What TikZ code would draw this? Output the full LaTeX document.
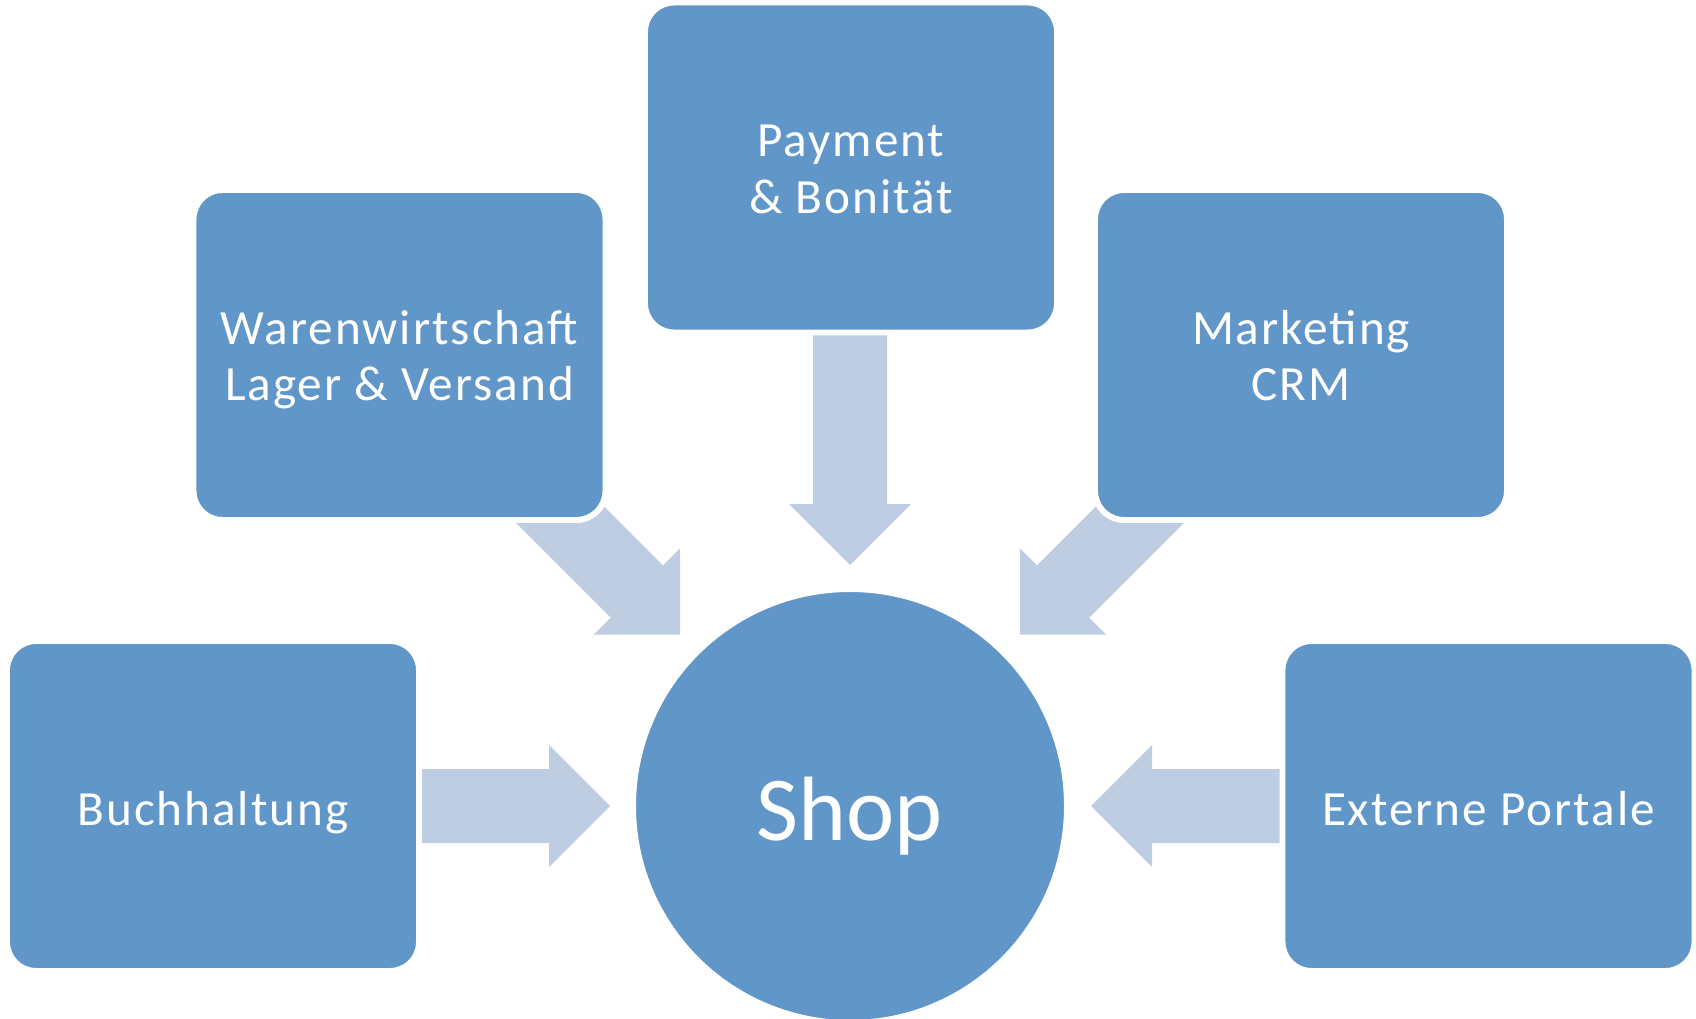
\documentclass[tikz,border=0pt]{standalone}
\usepackage{fontspec}
\setmainfont{Carlito}
\newfontfamily\kastenschrift[LetterSpace=4]{Carlito}
\usetikzlibrary{calc}

\definecolor{kastenblau}{RGB}{97,150,200}
\definecolor{pfeilblau}{RGB}{191,205,227}

\newcommand{\stuetze}[1]{\rule[-0.25em]{0pt}{#1}}

\tikzset{
	kasten/.style={rectangle, rounded corners=0.29cm, fill=kastenblau, draw=white, line width=1.7pt,
		minimum width=4.12cm, minimum height=3.30cm, text=white, align=center,
		font=\kastenschrift\fontsize{14}{16}\selectfont,
		text height=14.5pt, text depth=3.5pt},
	zweizeilig/.style={text height=29.4pt},
	kreis/.style={circle, fill=kastenblau, draw=white, line width=1.7pt, minimum size=4.34cm,
		text=white, font=\fontsize{26}{30}\selectfont,
		execute at begin node={\stuetze{1.25em}}},
	pfeil/.style={fill=pfeilblau},
}

\newcommand{\pfeil}[2]{%
	\fill[pfeil] let \p1=(#1), \p2=(#2),
		\n1={atan2(\y2-\y1,\x2-\x1)}, \n2={veclen(\x2-\x1,\y2-\y1)} in
		[shift={(\p1)}, rotate=\n1]
		(0cm,-0.37cm) -- (\n2-0.61cm,-0.37cm) -- (\n2-0.61cm,-0.61cm) -- (\n2,0cm)
		-- (\n2-0.61cm,0.61cm) -- (\n2-0.61cm,0.37cm) -- (0cm,0.37cm) -- cycle;}

\begin{document}
\begin{tikzpicture}
	\useasboundingbox (0,0) rectangle (16.96,10.18);

	\coordinate (p-start) at (8.50,6.83);
	\coordinate (p-ende) at (8.50,4.53);
	\coordinate (w-start) at (5.203,5.431);
	\coordinate (w-ende) at (6.803,3.831);
	\coordinate (m-start) at (11.797,5.431);
	\coordinate (m-ende) at (10.197,3.831);
	\coordinate (b-start) at (4.22,2.12);
	\coordinate (b-ende) at (6.10,2.12);
	\coordinate (e-start) at (12.80,2.12);
	\coordinate (e-ende) at (10.91,2.12);

	\pfeil{p-start}{p-ende}
	\pfeil{w-start}{w-ende}
	\pfeil{m-start}{m-ende}
	\pfeil{b-start}{b-ende}
	\pfeil{e-start}{e-ende}

	\node[kreis] (shop) at (8.50,2.12) {Shop};
	\node[kasten, zweizeilig] (payment) at (8.51,8.505) {Payment\\\& Bonität};
	\node[kasten, zweizeilig] (waren) at (3.995,6.63) {Warenwirtschaft\\Lager \& Versand};
	\node[kasten, zweizeilig] (marketing) at (13.01,6.63) {Marketing\\CRM};
	\node[kasten] (buchhaltung) at (2.13,2.12) {Buchhaltung};
	\node[kasten] (portale) at (14.885,2.12) {Externe Portale};
\end{tikzpicture}
\end{document}
